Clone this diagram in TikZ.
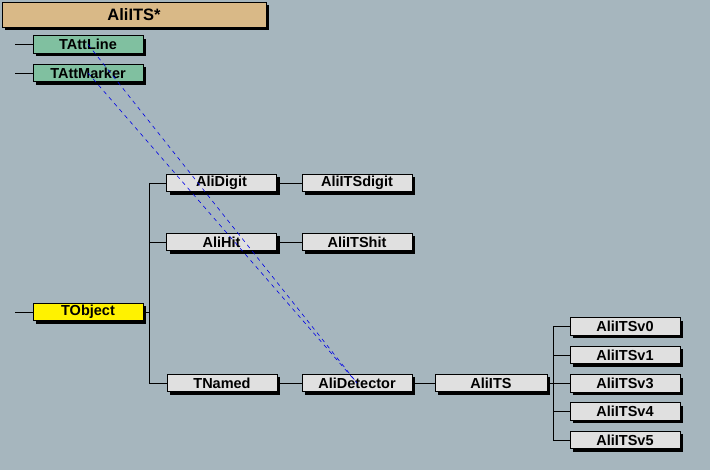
\documentclass[tikz,border=0pt]{standalone}
\usepackage{fontspec}
\setmainfont{Liberation Sans}
\usepackage{tikz}
\usetikzlibrary{shadows}
\definecolor{canvas}{RGB}{166,182,190}
\definecolor{titletan}{RGB}{217,185,135}
\definecolor{attgreen}{RGB}{128,192,160}
\definecolor{boxgray}{RGB}{224,224,224}
\definecolor{linkblue}{RGB}{0,0,230}

\begin{document}
\begin{tikzpicture}[x=1pt, y=-1pt,
        cls/.style={draw, line width=0.8pt, fill=boxgray, minimum width=110pt, minimum height=17.5pt, inner sep=0pt,
            font=\fontsize{14.5}{16}\bfseries\selectfont,
            drop shadow={shadow xshift=3pt, shadow yshift=-3pt, fill=black, opacity=1}},
        att/.style={cls, fill=attgreen},
        base/.style={cls, fill=yellow},
        title/.style={cls, fill=titletan, minimum width=264pt, minimum height=25pt, font=\fontsize{16.5}{18}\bfseries\selectfont},
        tree/.style={line width=0.8pt},
        uses/.style={linkblue, line width=0.6pt, dash pattern=on 4pt off 4pt}]
                    \fill[canvas] (0,0) rectangle (710,470);
                    \useasboundingbox (0,0) rectangle (710,470);

                    \node[title] (AliITSstar) at (134,14.5) {AliITS*};
                    \node[att] (TAttLine) at (88,44.5) {TAttLine};
                    \node[att] (TAttMarker) at (88,73) {TAttMarker};
                    \node[base] (TObject) at (88,312) {TObject};
                    \node[cls] (AliDigit) at (221.5,183) {AliDigit};
                    \node[cls] (AliITSdigit) at (357,183) {AliITSdigit};
                    \node[cls] (AliHit) at (221.5,242) {AliHit};
                    \node[cls] (AliITShit) at (357,242) {AliITShit};
                    \node[cls] (TNamed) at (222,383) {TNamed};
                    \node[cls] (AliDetector) at (357,383) {AliDetector};
                    \node[cls, minimum width=112pt] (AliITS) at (491,383) {AliITS};
                    \node[cls] (AliITSv0) at (625,326.5) {AliITSv0};
                    \node[cls] (AliITSv1) at (625,355) {AliITSv1};
                    \node[cls] (AliITSv3) at (625,383.5) {AliITSv3};
                    \node[cls] (AliITSv4) at (625,411.5) {AliITSv4};
                    \node[cls] (AliITSv5) at (625,440) {AliITSv5};

                    \coordinate (lineend) at (15,44.5);
                    \coordinate (markerend) at (15,73);
                    \coordinate (objectend) at (15,312);
                    \coordinate (objectfork) at (149,312);
                    \coordinate (itsfork) at (553,383);

                    \draw[tree] (lineend) -- (TAttLine);
                    \draw[tree] (markerend) -- (TAttMarker);
                    \draw[tree] (objectend) -- (TObject);
                    \draw[tree] (TObject) -- (objectfork);
                    \draw[tree] (objectfork) |- (AliDigit);
                    \draw[tree] (objectfork) |- (AliHit);
                    \draw[tree] (objectfork) |- (TNamed);
                    \draw[tree] (AliDigit) -- (AliITSdigit);
                    \draw[tree] (AliHit) -- (AliITShit);
                    \draw[tree] (TNamed) -- (AliDetector);
                    \draw[tree] (AliDetector) -- (AliITS);
                    \draw[tree] (AliITS) -- (itsfork);
                    \foreach \v in {0,1,3,4,5}
                        \draw[tree] (itsfork) |- (AliITSv\v);

                    \draw[uses] (TAttLine.center) -- (AliDetector.center);
                    \draw[uses] (TAttMarker.center) -- (AliDetector.center);
                \end{tikzpicture}
\end{document}
